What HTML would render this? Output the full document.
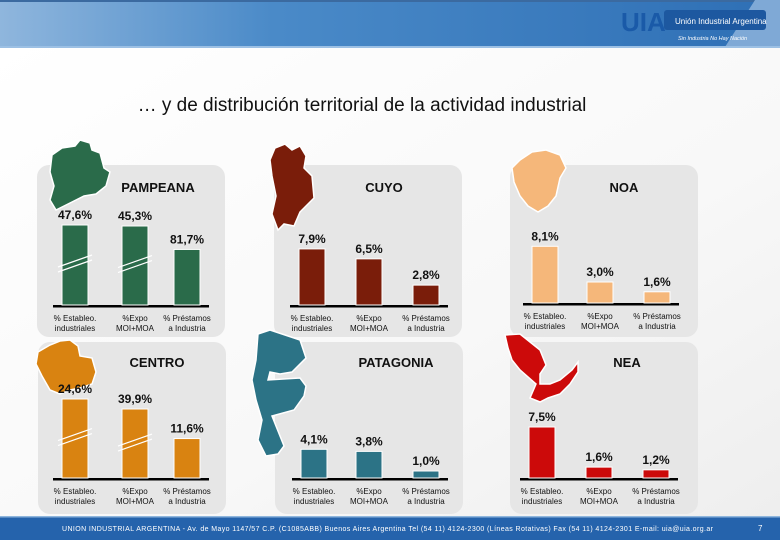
<!DOCTYPE html>
<html><head><meta charset="utf-8">
<style>
html,body{margin:0;padding:0;width:780px;height:540px;overflow:hidden;background:#fff;font-family:"Liberation Sans",sans-serif;}
svg{display:block}
</style></head>
<body>
<svg id="s" width="780" height="540" viewBox="0 0 780 540" xmlns="http://www.w3.org/2000/svg">
<defs>
<linearGradient id="hdr" x1="0" y1="0" x2="1" y2="0">
<stop offset="0" stop-color="#8fb6dd"/><stop offset="0.35" stop-color="#4a8ac8"/><stop offset="1" stop-color="#2e6fb5"/></linearGradient>
<linearGradient id="bg" x1="0" y1="0" x2="1" y2="1">
<stop offset="0" stop-color="#ffffff"/><stop offset="0.6" stop-color="#f8f8f8"/><stop offset="1" stop-color="#eeeeee"/></linearGradient>
</defs>
<rect x="0" y="47" width="780" height="470" fill="url(#bg)"/>
<g>
<rect x="0" y="0" width="780" height="47" fill="url(#hdr)"/>
<rect x="0" y="0" width="780" height="2" fill="#3b6aa0"/>
<polygon points="755,0 780,0 780,47 725,47" fill="#7fa9d6"/>
<rect x="0" y="46" width="780" height="2" fill="#9cc0e4"/>
</g>
<g>
<text x="621" y="31" font-size="26" font-weight="bold" fill="#1a5aa8" font-family="Liberation Sans,sans-serif">UIA</text>
<rect x="664" y="10" width="102" height="20" rx="3" fill="#1d58a0"/>
<text x="675" y="24" font-size="8" fill="#fff">Unión Industrial Argentina</text>
<text x="678" y="40" font-size="5.5" fill="#fff" font-style="italic">Sin Industria No Hay Nación</text>
</g>
<text x="362" y="111" font-size="19" fill="#111" text-anchor="middle">… y de distribución territorial de la actividad industrial</text>
<g id="panels"></g>
<g>
<rect x="0" y="517" width="780" height="23" fill="#2563ac"/>
<rect x="0" y="516" width="780" height="1.5" fill="#8fb6dd"/>
<text x="62" y="531" font-size="7" fill="#fff" letter-spacing="0.4">UNION INDUSTRIAL ARGENTINA - Av. de Mayo 1147/57 C.P. (C1085ABB) Buenos Aires  Argentina Tel (54 11) 4124-2300  (Líneas Rotativas)  Fax (54 11) 4124-2301    E-mail: uia@uia.org.ar</text>
<text x="758" y="531" font-size="8" fill="#fff">7</text>
</g>
</svg>
<script>
// Region data
const regions = ["PAMPEANA","CUYO","NOA","CENTRO","PATAGONIA","NEA"];
const categories = ["% Estableo.|industriales","%Expo|MOI+MOA","% Préstamos|a Industria"];
const valPampeana = [47.6, 45.3, 81.7];
const valCuyo = [7.9, 6.5, 2.8];
const valNoa = [8.1, 3.0, 1.6];
const valCentro = [24.6, 39.9, 11.6];
const valPatagonia = [4.1, 3.8, 1.0];
const valNea = [7.5, 1.6, 1.2];
const brokenPampeana = [true, true, false];
const brokenCentro = [true, true, false];

const NS = "http://www.w3.org/2000/svg";
const root = document.getElementById("panels");
function mk(tag, attrs, parent){const e=document.createElementNS(NS,tag);for(const k in attrs)e.setAttribute(k,attrs[k]);(parent||root).appendChild(e);return e;}

const layout = [
 {px:37,py:165,title:[158,192],base:305,scale:0.68,color:"#2a6b4a",vals:valPampeana,broken:brokenPampeana,brokenH:[80,79],cx:[75,135,187],
  map:"M52,155 L62,148 L75,146 L80,140 L90,143 L92,150 L100,153 L104,168 L110,172 L106,186 L96,194 L84,196 L72,202 L56,210 L50,200 L54,186 L50,172 Z"},
 {px:274,py:165,title:[384,192],base:305,scale:7.1,color:"#7a1d0a",vals:valCuyo,cx:[312,369,426],
  map:"M275,148 L285,144 L292,150 L300,146 L306,156 L304,168 L312,176 L314,198 L300,212 L294,226 L284,224 L278,230 L272,214 L276,196 L272,176 L270,160 Z"},
 {px:510,py:165,title:[624,192],base:303,scale:7,color:"#f5b77a",vals:valNoa,cx:[545,600,657],
  map:"M520,160 L532,152 L546,150 L560,155 L566,168 L560,178 L556,196 L548,206 L538,212 L528,206 L520,196 L514,182 L512,168 Z"},
 {px:38,py:342,title:[157,367],base:478,scale:3.4,color:"#d98311",vals:valCentro,broken:brokenCentro,brokenH:[79,69],cx:[75,135,187],
  map:"M38,352 L50,345 L60,341 L70,340 L78,346 L80,356 L92,358 L96,372 L92,384 L80,388 L70,390 L60,394 L50,390 L42,376 L36,364 Z"},
 {px:275,py:342,title:[396,367],base:478,scale:7,color:"#2c7386",vals:valPatagonia,cx:[314,369,426],
  map:"M258,334 L270,330 L282,334 L300,340 L306,358 L292,372 L280,374 L270,372 L268,380 L300,378 L306,386 L304,396 L294,410 L272,416 L280,436 L284,446 L278,454 L266,456 L258,440 L262,420 L256,400 L252,380 L256,360 Z"},
 {px:510,py:342,title:[627,367],base:478,scale:6.8,color:"#cc0a0a",vals:valNea,cx:[542,599,656],
  map:"M505,335 L520,334 L540,350 L546,365 L540,374 L540,384 L550,384 L560,380 L572,370 L578,362 L578,372 L570,384 L560,394 L548,398 L540,402 L530,398 L536,384 L520,370 L512,360 L508,348 Z"}
];

layout.forEach((p,i)=>{
  const g = mk("g",{});
  
  
  const bg = mk("rect",{x:p.px,y:p.py,width:188,height:172,rx:12,fill:"#e6e6e6"},g);
  
  
  const map = mk("path",{d:p.map,fill:p.color,stroke:"#fff","stroke-width":1.5},g);
  
  
  const t = mk("text",{x:p.title[0],y:p.title[1],"font-size":13,"font-weight":"bold","text-anchor":"middle",fill:"#111"},g);
  t.textContent = regions[i];
  
  
  const ax = mk("rect",{x:p.cx[0]-22,y:p.base,width:(p.cx[2]-p.cx[0])+44,height:2.5,fill:"#000"},g);
  
  
  p.vals.forEach((v,j)=>{
    const brk = p.broken && p.broken[j];
    const h = brk ? p.brokenH[j] : v*p.scale;
    const x = p.cx[j]-13, y = p.base-h;
    const b = mk("rect",{x:x,y:y,width:26,height:h,fill:p.color,stroke:"#fff","stroke-width":1},g);
    
    
    if(brk){
      const my = y + h*0.45;
      [0,5].forEach(o=>{
        const l = mk("line",{x1:x-4,y1:my+6+o,x2:x+30,y2:my-6+o,stroke:"#fff","stroke-width":1.2},g);
        
        
      });
    }
    const lb = mk("text",{x:p.cx[j],y:y-6,"font-size":12,"font-weight":"bold","text-anchor":"middle",fill:"#111"},g);
    lb.textContent = v.toFixed(1).replace(".",",")+"%";
    
    
    const parts = categories[j].split("|");
    parts.forEach((s,k)=>{
      const c = mk("text",{x:p.cx[j],y:p.base+16+k*10,"font-size":8,"text-anchor":"middle",fill:"#111"},g);
      c.textContent = s;
      
      
    });
  });
});
</script>
</body></html>
